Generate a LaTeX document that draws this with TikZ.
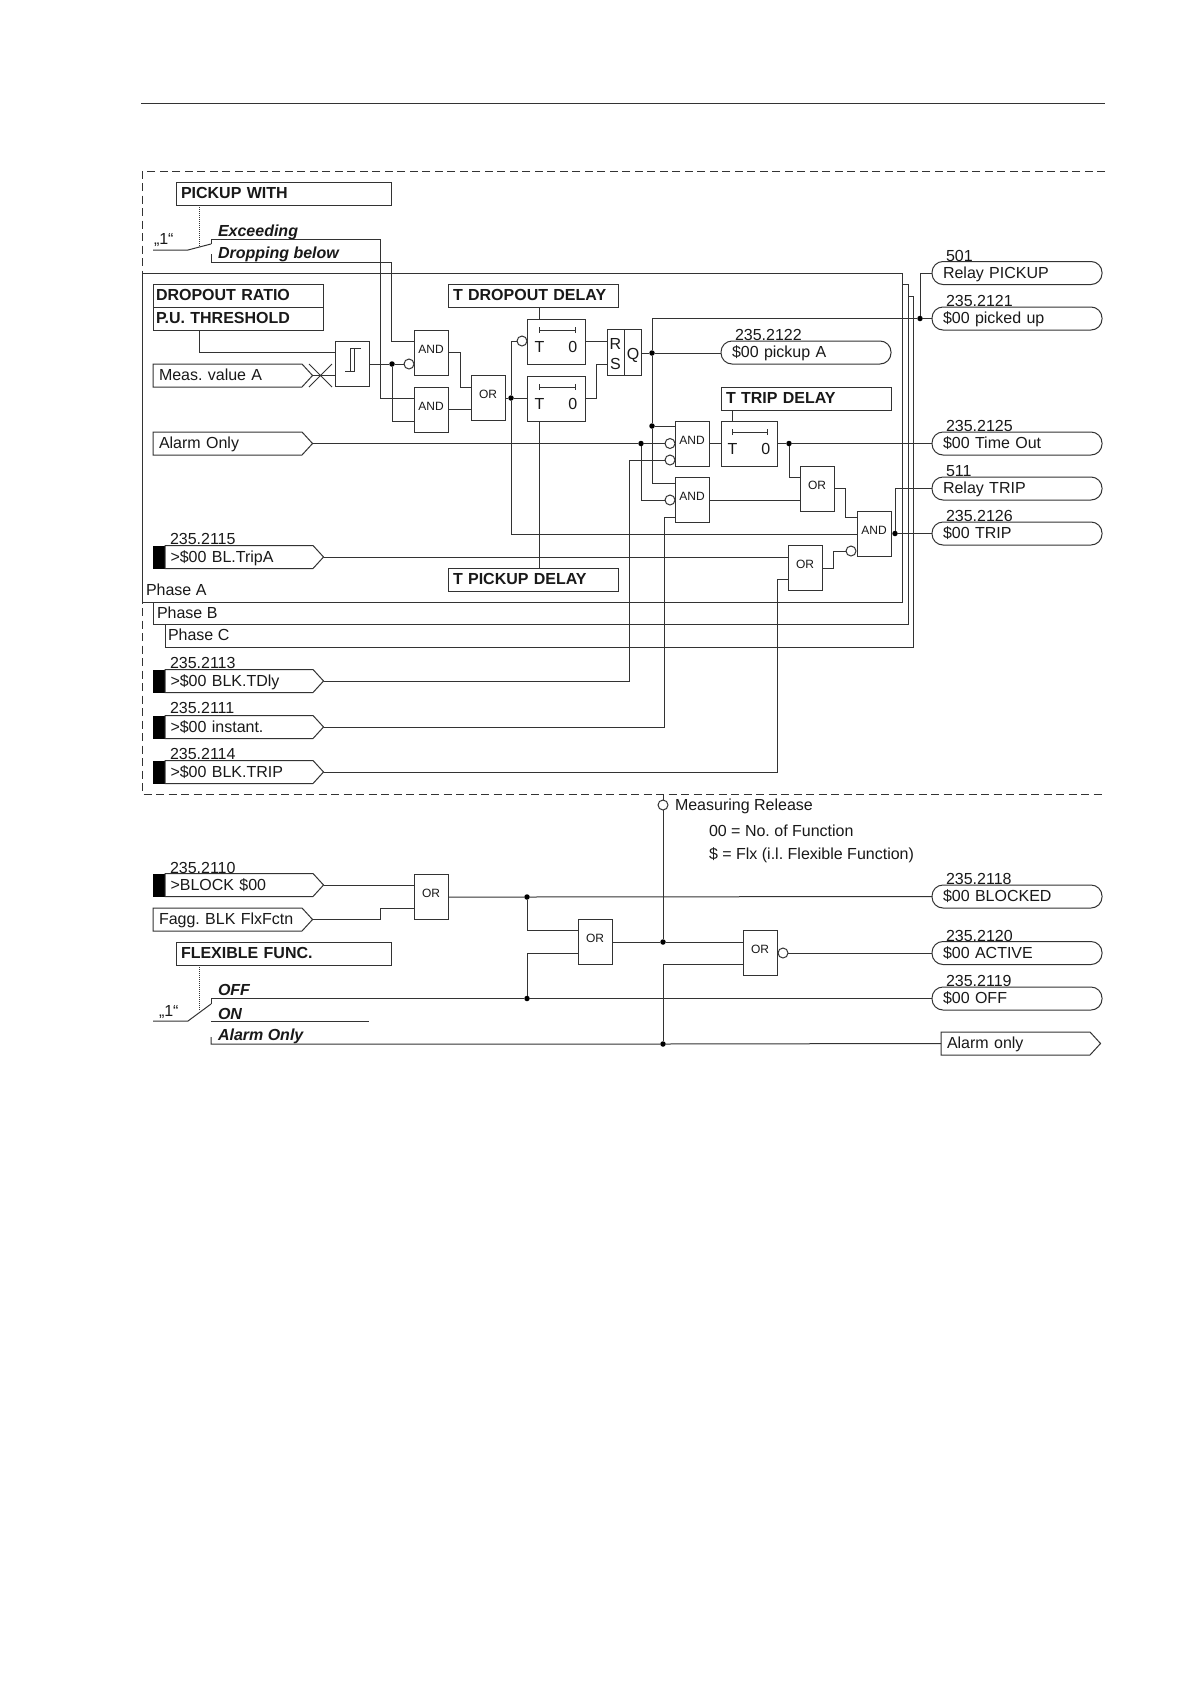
\documentclass[tikz,border=0pt]{standalone}
\usepackage{fontspec}
\setmainfont{Liberation Sans}
\usetikzlibrary{shapes.symbols}
\definecolor{ink}{gray}{0.2}
\newcommand{\gtxt}[1]{\raisebox{-0.8pt}[0pt][0pt]{#1}}
\newcommand{\ttxt}{\raisebox{-10.25pt}[0pt][0pt]{T\hspace{24pt}0}}
\tikzset{
  every node/.style={outer sep=0pt, text=black!90},
  every path/.style={line width=1pt},
  gate/.style={draw=ink, fill=white, rectangle, anchor=north west, minimum width=34pt, minimum height=45.5pt, inner sep=0pt, font=\fontsize{12}{14}\selectfont},
  timer/.style={gate, minimum width=58pt, font=\fontsize{16}{18}\selectfont},
  tbox/.style={draw=ink, rectangle, anchor=north west, inner xsep=5pt, inner ysep=0pt, minimum height=23pt, text height=9pt, text depth=0pt, align=left, font=\frenchspacing\fontsize{16}{18}\selectfont\bfseries},
  pill/.style={draw=ink, fill=white, rectangle, rounded corners=11pt, anchor=west, inner xsep=11pt, inner ysep=0pt, text width=148pt, minimum height=23pt, text height=10pt, text depth=0pt, align=left, font=\frenchspacing\fontsize{16}{18}\selectfont},
  insig/.style={draw=ink, fill=white, signal, signal to=east, signal pointer angle=95, anchor=west, inner ysep=0pt, minimum height=23pt, text height=10pt, text depth=0pt, align=left, font=\frenchspacing\fontsize{16}{18}\selectfont},
  blk/.style={fill=black, draw=none, rectangle, anchor=west, minimum width=12pt, minimum height=23pt, inner sep=0pt},
  lbl/.style={anchor=base west, inner sep=0pt, font=\frenchspacing\fontsize{16}{18}\selectfont},
  optlbl/.style={lbl, font=\fontsize{16}{18}\selectfont\bfseries\itshape},
  bub/.style={draw=ink, fill=white, circle, minimum size=10pt, inner sep=0pt},
  jdot/.style={fill=black, draw=none, circle, minimum size=5.5pt, inner sep=0pt},
}
\begin{document}
\begin{tikzpicture}[x=1pt,y=-1pt,color=ink]
\useasboundingbox[fill=white] (0,0) rectangle (1190,1684);
% header rule and dashed frame
\coordinate (ruleL) at (141,103); \coordinate (ruleR) at (1105,103);
\draw (ruleL) -- (ruleR);
\coordinate (dashTR) at (1105,171); \coordinate (dashBR) at (1105,794);
\draw[dash pattern=on 8pt off 4.5pt] (dashTR) -- (142,171) -- (142,794) -- (dashBR);
% phase frames
\coordinate (pAa) at (142,273);
\draw (pAa) -- (902,273) -- (902,602) -- (142,602) -- cycle;
\coordinate (pBa) at (153,602); \coordinate (pBb) at (902,284);
\draw (pBa) -- (153,624) -- (908,624) -- (908,284) -- (pBb);
\coordinate (pCa) at (165,624); \coordinate (pCb) at (908,296);
\draw (pCa) -- (165,647) -- (913,647) -- (913,296) -- (pCb);
\node[lbl] (phA) at (146,595) {Phase A};
\node[lbl] (phB) at (157,618) {Phase B};
\node[lbl] (phC) at (168,640) {Phase C};

% setting boxes
\node[tbox, text width=205pt] (pickup) at (176,182) {PICKUP WITH};
\node[tbox, inner xsep=3pt, text width=164pt] (dropr) at (153,284) {DROPOUT RATIO};
\node[tbox, inner xsep=3pt, text width=164pt] (puth) at (153,307) {P.U. THRESHOLD};
\node[tbox, text width=160pt] (tdrop) at (448,284) {T DROPOUT DELAY};
\node[tbox, text width=160pt] (tpick) at (448,568) {T PICKUP DELAY};
\node[tbox, text width=160pt] (ttrip) at (721,387) {T TRIP DELAY};
\node[tbox, text width=205pt] (flex) at (176,942) {FLEXIBLE FUNC.};

% inputs
\node[insig, inner xsep=6pt, text width=137pt] (meas) at (153,375.5) {Meas. value A};
\node[insig, inner xsep=6pt, text width=137pt] (alarm) at (153,443.5) {Alarm Only};
\node[insig, inner xsep=6pt, text width=137pt] (fagg) at (153,919.5) {Fagg. BLK FlxFctn};
\node[blk] (b1) at (153,557) {};
\node[insig, inner xsep=5.5pt, text width=137pt] (i1) at (165,557) {>\$00 BL.TripA};
\node[blk] (b2) at (153,681) {};
\node[insig, inner xsep=5.5pt, text width=137pt] (i2) at (165,681) {>\$00 BLK.TDly};
\node[blk] (b3) at (153,727) {};
\node[insig, inner xsep=5.5pt, text width=137pt] (i3) at (165,727) {>\$00 instant.};
\node[blk] (b4) at (153,772) {};
\node[insig, inner xsep=5.5pt, text width=137pt] (i4) at (165,772) {>\$00 BLK.TRIP};
\node[blk] (b5) at (153,885) {};
\node[insig, inner xsep=5.5pt, text width=137pt] (i5) at (165,885) {>BLOCK \$00};
\node[lbl] (n1) at (170,544.5) {235.2115};
\node[lbl] (n2) at (170,668.5) {235.2113};
\node[lbl] (n3) at (170,713.5) {235.2111};
\node[lbl] (n4) at (170,759.5) {235.2114};
\node[lbl] (n5) at (170,873) {235.2110};

% outputs
\node[pill] (oPick) at (932,273) {Relay PICKUP};
\node[pill] (oUp) at (932,318.5) {\$00 picked up};
\node[pill] (oA) at (721,352.5) {\$00 pickup A};
\node[pill] (oTo) at (932,443.5) {\$00 Time Out};
\node[pill] (oRT) at (932,488.5) {Relay TRIP};
\node[pill] (oTr) at (932,533.5) {\$00 TRIP};
\node[pill] (oBl) at (932,896.5) {\$00 BLOCKED};
\node[pill] (oAc) at (932,953) {\$00 ACTIVE};
\node[pill] (oOf) at (932,998.5) {\$00 OFF};
\node[insig, inner xsep=6pt, text width=137pt] (oAl) at (941,1043.5) {Alarm only};
\node[lbl] (m1) at (946,261) {501};
\node[lbl] (m2) at (946,306) {235.2121};
\node[lbl] (m3) at (735,340) {235.2122};
\node[lbl] (m4) at (946,431) {235.2125};
\node[lbl] (m5) at (946,476) {511};
\node[lbl] (m6) at (946,521) {235.2126};
\node[lbl] (m7) at (946,884) {235.2118};
\node[lbl] (m8) at (946,941) {235.2120};
\node[lbl] (m9) at (946,986) {235.2119};

% logic blocks
\node[gate] (hyst) at (335,341) {};
\node[gate] (and1) at (414,330) {\gtxt{AND}};
\node[gate] (and2) at (414,387) {\gtxt{AND}};
\node[gate] (or1) at (471,375) {\gtxt{OR}};
\node[timer] (t1) at (527,319) {\ttxt};
\node[timer] (t2) at (527,376) {\ttxt};
\node[gate, minimum width=34pt, minimum height=46pt] (rs) at (607,329) {};
\node[gate] (and3) at (675,421) {\gtxt{AND}};
\node[gate] (and4) at (675,477) {\gtxt{AND}};
\node[timer, minimum width=56pt] (t3) at (721,421) {\ttxt};
\node[gate] (or2) at (800,466) {\gtxt{OR}};
\node[gate] (and5) at (857,511) {\gtxt{AND}};
\node[gate] (or3) at (788,545) {\gtxt{OR}};
\node[gate] (or4) at (414,874) {\gtxt{OR}};
\node[gate] (or5) at (578,919) {\gtxt{OR}};
\node[gate] (or6) at (743,930) {\gtxt{OR}};

% RS interior
\coordinate (rsdT) at (624,329); \coordinate (rsdB) at (624,375);
\draw (rsdT) -- (rsdB);
\node[lbl, anchor=base] (rR) at (615.5,349) {R};
\node[lbl, anchor=base] (rS) at (615.5,369) {S};
\node[lbl, anchor=base] (rQ) at (633,359) {Q};
% timer bars
\draw (539,330) -- (575,330) (539,327) -- (539,333) (575,327) -- (575,333);
\draw (539,387) -- (575,387) (539,384) -- (539,390) (575,384) -- (575,390);
\draw (732,432) -- (767,432) (732,429) -- (732,435) (767,429) -- (767,435);
% hysteresis glyph
\draw (345,371) -- (354,371) -- (354,348) -- (361,348) (350,371) -- (350,348) -- (354,348);
% crossed input
\draw (309,364) -- (332,387) (309,387) -- (332,364);

% bubbles and junction dots
\node[bub] (bA1) at (409,364) {};
\node[bub] (bT1) at (522,341) {};
\node[bub] (bA3a) at (670,443.5) {};
\node[bub] (bA3b) at (670,460) {};
\node[bub] (bA4) at (670,500) {};
\node[bub] (bA5) at (851,551) {};
\node[bub] (bO6) at (783,953) {};
\node[bub] (bMR) at (663,805) {};
\node[jdot] (j1) at (392,364) {};
\node[jdot] (j2) at (511,398) {};
\node[jdot] (j3) at (652,353) {};
\node[jdot] (j4) at (652,426) {};
\node[jdot] (j5) at (641,443.5) {};
\node[jdot] (j6) at (789,443.5) {};
\node[jdot] (j7) at (895,533.5) {};
\node[jdot] (j8) at (920,318.5) {};
\node[jdot] (j9) at (527,897) {};
\node[jdot] (j10) at (527,998.5) {};
\node[jdot] (j11) at (663,942) {};
\node[jdot] (j12) at (663,1044) {};

% switches
\coordinate (sw1a) at (153,250); \coordinate (sw1b) at (211,244);
\coordinate (sw1p) at (199,247);
\draw[densely dotted] (pickup.south west -| sw1p) -- (sw1p);
\draw (sw1a) -- (188,250) -- (sw1b);
\coordinate (sw1c) at (211,239.5); \coordinate (sw1d) at (211,254);
\draw (sw1b) -- (sw1c);
\node[lbl] (one1) at (154,244) {„1“};
\node[optlbl] (exc) at (218,236.5) {Exceeding};
\node[optlbl] (drp) at (218,258) {Dropping below};
\coordinate (sw2a) at (153,1021); \coordinate (sw2b) at (211,1004);
\coordinate (sw2p) at (199,1011);
\draw[densely dotted] (flex.south west -| sw2p) -- (sw2p);
\draw (sw2a) -- (188,1021) -- (sw2b);
\node[lbl] (one2) at (159,1016) {„1“};
\node[optlbl] (off) at (218,995.5) {OFF};
\node[optlbl] (on) at (218,1019) {ON};
\node[optlbl] (aon) at (218,1040.5) {Alarm Only};
\coordinate (onL) at (211,1021); \coordinate (onR) at (369,1021);
\draw (onL) -- (onR);

% connectors: upper part
\draw (sw1c) -- (380,239.5) -- (380,398) -- (and2.west |- 0,398);
\draw (sw1d) -- (211,262) -- (391,262) -- (391,341) -- (and1.west |- 0,341);
\draw (puth.south west -| 199,0) -- (199,352) -- (hyst.west |- 0,352);
\draw (meas.east) -- (hyst.west |- meas.east);
\draw (hyst.east |- j1) -- (j1) -- (bA1);
\draw (j1) -- (392,421) -- (and2.west |- 0,421);
\draw (and1.east |- 0,352) -- (460,352) -- (460,387) -- (or1.west |- 0,387);
\draw (and2.east |- 0,409) -- (or1.west |- 0,409);
\draw (or1.east |- j2) -- (j2) -- (t2.west |- j2);
\draw (bT1) -- (511,341) -- (j2);
\draw (j2) -- (511,534) -- (and5.west |- 0,534);
\draw (tdrop.south west -| 539,0) -- (t1.north west -| 539,0);
\draw (t2.south west -| 539,0) -- (tpick.north west -| 539,0);
\draw (t1.east |- 0,341) -- (rs.west |- 0,341);
\draw (t2.east |- 0,398) -- (596,398) -- (596,364) -- (rs.west |- 0,364);
\draw (rs.east |- j3) -- (j3) -- (oA.west |- j3);
\draw (oUp.west) -- (j8) -- (652,318.5) -- (j3);
\draw (j3) -- (j4) -- (652,483) -- (and4.west |- 0,483);
\draw (j4) -- (and3.west |- j4);
\draw (alarm.east) -- (j5) -- (bA3a);
\draw (j5) -- (641,500) -- (bA4);
\draw (i2.east) -- (629,681) -- (629,460) -- (bA3b);
\draw (i3.east) -- (664,727) -- (664,517) -- (and4.west |- 0,517);
\draw (i1.east) -- (or3.west |- i1.east);
\draw (i4.east) -- (777,772) -- (777,579) -- (or3.west |- 0,579);
\draw (ttrip.south west -| 732,0) -- (t3.north west -| 732,0);
\draw (and3.east |- 0,443.5) -- (t3.west |- 0,443.5);
\draw (t3.east |- j6) -- (j6) -- (oTo.west |- j6);
\draw (j6) -- (789,477) -- (or2.west |- 0,477);
\draw (and4.east |- 0,500) -- (or2.west |- 0,500);
\draw (or2.east |- 0,488) -- (845,488) -- (845,517) -- (and5.west |- 0,517);
\draw (or3.east |- 0,568) -- (833,568) -- (833,551) -- (bA5);
\draw (and5.east |- j7) -- (j7) -- (oTr.west);
\draw (j7) -- (895,488.5) -- (oRT.west);
\draw (j8) -- (920,273) -- (oPick.west);

% connectors: lower part
\coordinate (mrT) at (663,794);
\draw (mrT) -- (bMR);
\draw (bMR) -- (j11);
\draw (i5.east) -- (or4.west |- i5.east);
\draw (fagg.east) -- (380,919.5) -- (380,908) -- (or4.west |- 0,908);
\draw (or4.east |- j9) -- (j9) -- (oBl.west);
\draw (j9) -- (527,930) -- (or5.west |- 0,930);
\draw (j10) -- (527,953) -- (or5.west |- 0,953);
\draw (or5.east |- j11) -- (j11) -- (or6.west |- j11);
\draw (j12) -- (663,964) -- (or6.west |- 0,964);
\draw (or6.east |- bO6) -- (bO6) -- (oAc.west);
\coordinate (sw2c) at (211,998.5);
\draw (sw2b) -- (sw2c) -- (j10) -- (oOf.west);
\coordinate (sw2d) at (211,1037);
\draw (sw2d) -- (211,1044) -- (j12) -- (oAl.west);

\node[lbl] (mrl) at (675,810.5) {Measuring Release};
\node[lbl] (nt1) at (709,836.5) {00 = No. of Function};
\node[lbl] (nt2) at (709,859) {\$ = Flx (i.l. Flexible Function)};
\end{tikzpicture}
\end{document}
